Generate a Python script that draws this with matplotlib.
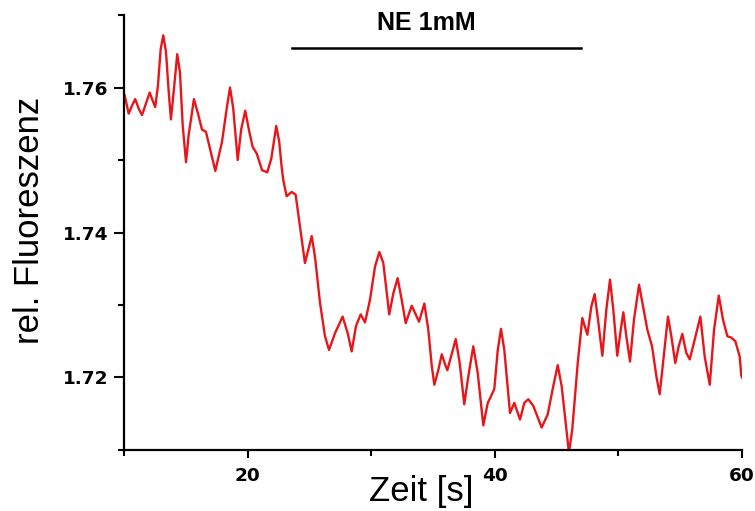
import matplotlib
matplotlib.use('Agg')
import matplotlib.pyplot as plt
from matplotlib.ticker import MultipleLocator

# trace (time [s], rel. fluorescence)
zeit = [10.06, 10.38, 10.65, 10.91, 11.19, 11.46, 11.72, 12.08, 12.32, 12.53,
        12.75, 12.97, 13.18, 13.40, 13.62, 13.80, 14.02, 14.31, 14.53, 14.75,
        15.02, 15.23, 15.66, 15.99, 16.31, 16.63, 16.90, 17.39, 17.93, 18.31,
        18.58, 18.84, 19.20, 19.49, 19.81, 20.14, 20.41, 20.74, 21.17, 21.59,
        21.92, 22.32, 22.56, 22.74, 22.89, 23.16, 23.57, 23.89, 24.24, 24.64,
        24.91, 25.19, 25.45, 25.86, 26.26, 26.59, 27.07, 27.69, 28.10, 28.42,
        28.77, 29.15, 29.50, 29.90, 30.31, 30.66, 30.98, 31.46, 31.79, 32.14,
        32.47, 32.79, 33.28, 33.87, 34.30, 34.62, 34.90, 35.11, 35.44, 35.71,
        35.98, 36.16, 36.46, 36.84, 37.16, 37.53, 37.86, 38.26, 38.62, 39.07,
        39.43, 39.69, 39.96, 40.24, 40.50, 40.77, 41.23, 41.58, 42.04, 42.39,
        42.71, 43.11, 43.79, 44.28, 44.73, 45.09, 45.41, 45.82, 46.00, 46.27,
        46.71, 47.08, 47.49, 47.81, 48.08, 48.35, 48.70, 49.02, 49.32, 49.59,
        49.91, 50.19, 50.40, 50.64, 50.94, 51.26, 51.67, 51.99, 52.34, 52.72,
        53.07, 53.34, 53.61, 54.01, 54.28, 54.60, 54.88, 55.17, 55.49, 55.77,
        56.17, 56.63, 56.98, 57.39, 57.74, 58.12, 58.46, 58.81, 59.13, 59.46,
        59.81, 59.94, 60.00]
fluo = [1.7589, 1.7564, 1.7575, 1.7584, 1.7571, 1.7562, 1.7575, 1.7593, 1.7582, 1.7573,
        1.7603, 1.7653, 1.7672, 1.7649, 1.7594, 1.7556, 1.7594, 1.7646, 1.7621, 1.7548,
        1.7497, 1.7534, 1.7584, 1.7564, 1.7542, 1.7539, 1.7520, 1.7485, 1.7525, 1.7571,
        1.7600, 1.7571, 1.7500, 1.7543, 1.7568, 1.7539, 1.7518, 1.7509, 1.7486, 1.7483,
        1.7502, 1.7547, 1.7525, 1.7493, 1.7472, 1.7450, 1.7456, 1.7452, 1.7408, 1.7358,
        1.7376, 1.7395, 1.7367, 1.7303, 1.7257, 1.7238, 1.7261, 1.7284, 1.7261, 1.7236,
        1.7271, 1.7287, 1.7276, 1.7307, 1.7353, 1.7373, 1.7358, 1.7287, 1.7316, 1.7337,
        1.7307, 1.7275, 1.7299, 1.7277, 1.7302, 1.7266, 1.7216, 1.7190, 1.7211, 1.7232,
        1.7218, 1.7210, 1.7229, 1.7253, 1.7220, 1.7163, 1.7202, 1.7243, 1.7206, 1.7134,
        1.7165, 1.7174, 1.7184, 1.7238, 1.7267, 1.7238, 1.7151, 1.7165, 1.7142, 1.7165,
        1.7170, 1.7161, 1.7131, 1.7149, 1.7188, 1.7217, 1.7188, 1.7124, 1.7096, 1.7129,
        1.7220, 1.7282, 1.7259, 1.7298, 1.7315, 1.7280, 1.7230, 1.7293, 1.7335, 1.7293,
        1.7230, 1.7266, 1.7290, 1.7257, 1.7222, 1.7280, 1.7328, 1.7298, 1.7266, 1.7243,
        1.7202, 1.7177, 1.7220, 1.7284, 1.7257, 1.7220, 1.7243, 1.7260, 1.7234, 1.7225,
        1.7252, 1.7284, 1.7229, 1.7190, 1.7266, 1.7313, 1.7280, 1.7257, 1.7255, 1.7250,
        1.7229, 1.7203, 1.7200]

ne_start, ne_end = 23.6, 47.0
ne_level = 1.7654
ne_label = 'NE 1mM'

fig = plt.figure(figsize=(7.55, 5.11), dpi=100)
ax = fig.add_axes([0.1642, 0.1194, 0.8186, 0.8512])

ax.plot(zeit, fluo, color='#e8161b', lw=1.7, solid_joinstyle='round')

ax.set_xlim(10, 60)
ax.set_ylim(1.71, 1.77)
ax.xaxis.set_major_locator(MultipleLocator(20))
ax.xaxis.set_minor_locator(MultipleLocator(10))
ax.yaxis.set_major_locator(MultipleLocator(0.02))
ax.yaxis.set_minor_locator(MultipleLocator(0.01))
ax.yaxis.set_major_formatter(plt.FuncFormatter(lambda v, p: f'{v:.2f}'))

for s in ['top', 'right']:
    ax.spines[s].set_visible(False)
for s in ['left', 'bottom']:
    ax.spines[s].set_linewidth(1.6)

ax.tick_params(which='major', direction='out', length=7, width=1.5, labelsize=13.3)
ax.tick_params(which='minor', direction='out', length=4, width=1.5)
ax.tick_params(axis='x', which='major', length=6, pad=6)
ax.tick_params(axis='y', which='major', pad=4)
for lab in ax.get_xticklabels() + ax.get_yticklabels():
    lab.set_fontweight('bold')

# NE application bar
ax.plot([ne_start, ne_end], [ne_level, ne_level], color='black', lw=1.8, clip_on=False)
ax.text(34.5, 1.7689, ne_label, ha='center', va='center', fontsize=18,
        fontweight='bold', family='Liberation Sans', clip_on=False)

fig.text(421.5 / 755, 1 - 492 / 511, 'Zeit [s]', ha='center', va='center',
         fontsize=25, family='Liberation Sans')
fig.text(30 / 755, 1 - 220 / 511, 'rel. Fluoreszenz', ha='center', va='center',
         rotation=90, fontsize=25, family='Liberation Sans')

fig.savefig('out.png', dpi=100)
